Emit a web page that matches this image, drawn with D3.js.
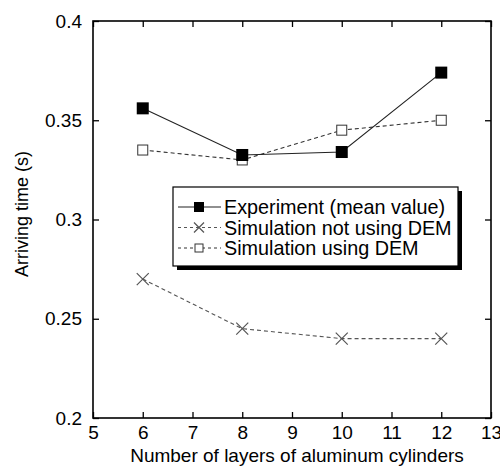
<!DOCTYPE html>
<html>
<head>
<meta charset="utf-8">
<script src="https://cdn.jsdelivr.net/npm/d3@7"></script>
<style>
  body { margin: 0; background: #fff; }
  svg { font-family: "Liberation Sans", Arial, sans-serif; }
</style>
</head>
<body>
<svg id="chart" width="500" height="472"></svg>
<script>
var layers = [6, 8, 10, 12];
var experiment = [0.356, 0.3325, 0.334, 0.374];
var simNoDem = [0.27, 0.245, 0.24, 0.24];
var simDem = [0.335, 0.33, 0.345, 0.35];
var xTicks = [5, 6, 7, 8, 9, 10, 11, 12, 13];
var yTicks = [0.2, 0.25, 0.3, 0.35, 0.4];
var legendLabels = ['Experiment (mean value)', 'Simulation not using DEM', 'Simulation using DEM'];

var margin = { top: 21, right: 9, bottom: 54, left: 93 };
var width = 500 - margin.left - margin.right;
var height = 472 - margin.top - margin.bottom;

var svg = d3.select('#chart');
var g = svg.append('g')
    .attr('transform', 'translate(' + margin.left + ',' + margin.top + ')');

var x = d3.scaleLinear().domain([5, 13]).range([0, width]);
var y = d3.scaleLinear().domain([0.2, 0.4]).range([height, 0]);

// frame
g.append('rect')
    .attr('width', width).attr('height', height)
    .attr('fill', 'none').attr('stroke', '#000').attr('stroke-width', 1.6);

var fmtY = function(d) { return String(+d.toFixed(2)); };

g.append('g')
    .attr('transform', 'translate(0,' + height + ')')
    .call(d3.axisBottom(x).tickValues(xTicks).tickSize(-6).tickPadding(8).tickFormat(d3.format('d')))
    .call(function(a) { a.select('.domain').remove(); });
g.append('g')
    .call(d3.axisTop(x).tickValues(xTicks).tickSize(-6).tickFormat(''))
    .call(function(a) { a.select('.domain').remove(); });
g.append('g')
    .call(d3.axisLeft(y).tickValues(yTicks).tickSize(-6).tickPadding(11).tickFormat(fmtY))
    .call(function(a) { a.select('.domain').remove(); });
g.append('g')
    .attr('transform', 'translate(' + width + ',0)')
    .call(d3.axisRight(y).tickValues(yTicks).tickSize(-6).tickFormat(''))
    .call(function(a) { a.select('.domain').remove(); });

g.selectAll('.tick line').attr('stroke', '#000').attr('stroke-width', 1.3);
g.selectAll('.tick text').attr('font-size', 19).attr('fill', '#000')
    .attr('font-family', '"Liberation Sans", Arial, sans-serif');

// axis titles
svg.append('text')
    .attr('x', 297).attr('y', 462)
    .attr('text-anchor', 'middle').attr('font-size', 19)
    .text('Number of layers of aluminum cylinders');
svg.append('text')
    .attr('transform', 'translate(28,214) rotate(-90)')
    .attr('text-anchor', 'middle').attr('font-size', 18)
    .text('Arriving time (s)');

function pts(vals) { return layers.map(function(l, i) { return [l, vals[i]]; }); }
var line = d3.line().x(function(d) { return x(d[0]); }).y(function(d) { return y(d[1]); });

var series = [
  { vals: simNoDem, color: '#555', dash: '4,3', marker: 'x' },
  { vals: simDem, color: '#333', dash: '4,3', marker: 'open' },
  { vals: experiment, color: '#222', dash: null, marker: 'filled' }
];

function drawMarker(sel, type, color, s) {
  if (type === 'filled') {
    sel.append('rect').attr('x', -s / 2).attr('y', -s / 2).attr('width', s).attr('height', s)
        .attr('fill', '#000');
  } else if (type === 'open') {
    var o = s - 2;
    sel.append('rect').attr('x', -o / 2).attr('y', -o / 2).attr('width', o).attr('height', o)
        .attr('fill', '#fff').attr('stroke', color).attr('stroke-width', 1);
  } else {
    var h = s / 2;
    sel.append('path').attr('d', 'M' + -h + ',' + -h + 'L' + h + ',' + h + 'M' + -h + ',' + h + 'L' + h + ',' + -h)
        .attr('stroke', color).attr('stroke-width', 1.2).attr('fill', 'none');
  }
}

series.forEach(function(s) {
  g.append('path')
      .attr('d', line(pts(s.vals)))
      .attr('fill', 'none').attr('stroke', s.color).attr('stroke-width', 1.1)
      .attr('stroke-dasharray', s.dash);
  g.selectAll(null).data(pts(s.vals)).enter().append('g')
      .attr('transform', function(d) { return 'translate(' + x(d[0]) + ',' + y(d[1]) + ')'; })
      .each(function() { drawMarker(d3.select(this), s.marker, s.color, 12); });
});

// legend
var leg = svg.append('g').attr('transform', 'translate(173,187)');
leg.append('rect').attr('x', 4).attr('y', 4).attr('width', 285).attr('height', 79).attr('fill', '#000');
leg.append('rect').attr('width', 285).attr('height', 79)
    .attr('fill', '#fff').attr('stroke', '#000').attr('stroke-width', 1.2);

var legItems = [
  { label: legendLabels[0], color: '#222', dash: null, marker: 'filled' },
  { label: legendLabels[1], color: '#555', dash: '3,3', marker: 'x' },
  { label: legendLabels[2], color: '#333', dash: '3,3', marker: 'open' }
];
legItems.forEach(function(it, i) {
  var row = leg.append('g').attr('transform', 'translate(0,' + (20 + i * 20.5) + ')');
  row.append('line').attr('x1', 5).attr('x2', 48).attr('y1', 0).attr('y2', 0)
      .attr('stroke', it.color).attr('stroke-width', 1.1).attr('stroke-dasharray', it.dash);
  var m = row.append('g').attr('transform', 'translate(26,0)');
  drawMarker(m, it.marker, it.color, 10);
  row.append('text').attr('x', 51).attr('y', 7).attr('font-size', 19.8).text(it.label);
});
</script>
</body>
</html>
